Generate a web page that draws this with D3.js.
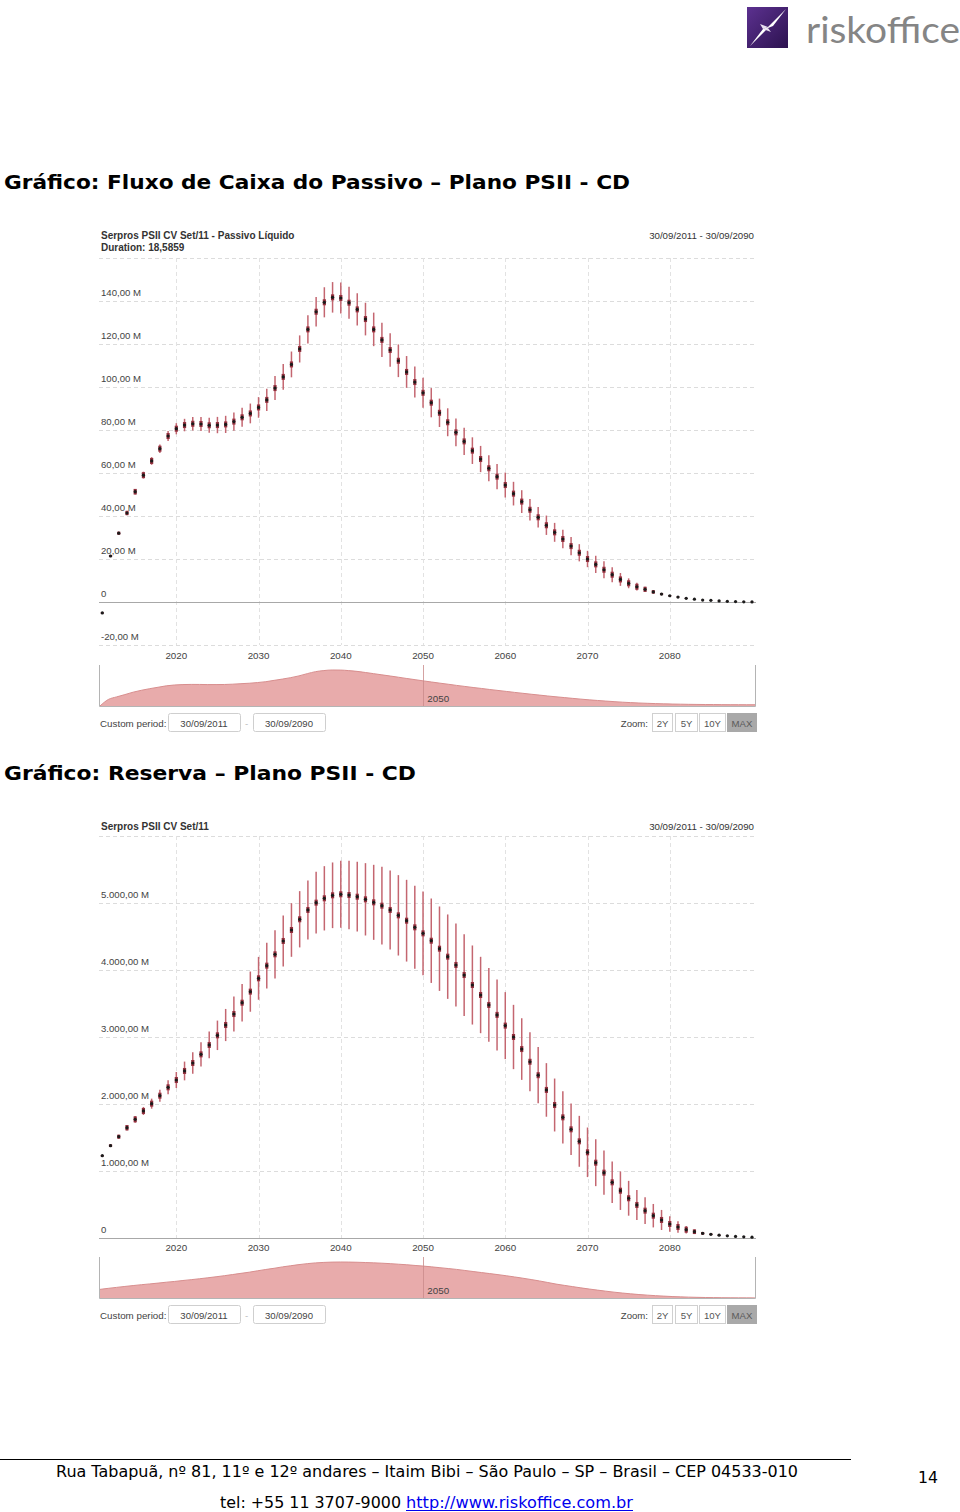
<!DOCTYPE html>
<html><head><meta charset="utf-8">
<script src="https://cdn.jsdelivr.net/npm/d3@7"></script>
<style>body{margin:0;background:#fff} svg{display:block}</style>
</head><body><svg id="c" width="960" height="1512"></svg>
<script>
// ---------- DATA ----------
const years = d3.range(2011, 2091);
const passivo = [
 -5.1,21.4,32,41.4,51.3,59,65.6,71.3,77.2,80.6,
 82.3,82.9,82.8,82.2,82.3,82.6,83.9,85.9,87.7,90.5,
 94,99.5,104.7,110.5,117.7,126.8,135,139.4,141.7,141.4,
 139.2,136.1,131.6,126.8,121.9,117.2,112.2,107,102.3,97.3,
 92.7,88,83.6,78.9,74.7,70.4,66.5,62.2,58.3,54.4,
 50.4,46.7,42.9,39.4,35.7,32.4,29.3,26,22.9,20,
 17.5,15,12.7,10.5,8.7,7.1,5.9,4.7,3.7,2.9,
 2.3,1.7,1.3,0.9,0.8,0.5,0.3,0.2,0.1,0.05];
const passivoSpread = [
 0.3,0.5,0.7,1.0,1.3,1.6,1.8,2.0,2.3,2.6,
 2.9,3.1,3.3,3.5,3.8,4.0,4.2,4.4,4.6,4.8,
 5.2,5.6,6.0,6.0,6.3,6.6,6.9,7.0,7.1,7.2,
 7.4,7.5,7.6,7.8,8.0,7.8,7.6,7.4,7.2,7.0,
 6.8,6.6,6.5,6.4,6.3,6.2,6.1,6.0,5.9,5.8,
 5.5,5.3,5.0,4.8,4.5,4.4,4.3,4.2,4.0,3.8,
 4.0,3.9,3.5,3.0,2.3,1.8,1.2,0.8,0.5,0.3,
 0.2,0.2,0.1,0.1,0.1,0.1,0.1,0.1,0.1,0.1];
const reserva = [
 1228,1378,1512,1646,1771,1896,2005,2124,2249,2358,
 2493,2612,2741,2881,3025,3179,3343,3512,3677,3876,
 4065,4234,4433,4597,4757,4896,5005,5070,5115,5130,
 5119,5094,5055,5010,4960,4896,4816,4736,4637,4547,
 4437,4318,4199,4075,3925,3776,3627,3478,3330,3170,
 3000,2820,2630,2430,2210,1985,1801,1622,1443,1279,
 1124,975,831,706,593,493,408,333,269,209,
 164,124,94,70,55,42,32,24,18,12];
const reservaSpread = [
 10,20,30,40,50,60,75,90,105,120,
 140,160,180,200,220,240,260,280,300,320,
 340,360,380,400,420,440,460,480,490,500,
 510,520,540,560,580,590,600,610,620,625,
 630,630,630,620,610,590,570,550,530,500,
 480,460,440,420,400,395,390,385,380,370,
 350,330,310,287,260,225,200,175,150,115,
 85,55,35,20,12,8,5,3,2,1];
const xTicks = [2020,2030,2040,2050,2060,2070,2080];
const yTicks1 = [-20,0,20,40,60,80,100,120,140];
const yLabels1 = ["-20,00 M","0","20,00 M","40,00 M","60,00 M","80,00 M","100,00 M","120,00 M","140,00 M"];
const yGrid1 = [-20,20,40,60,80,100,120,140,160];
const yTicks2 = [0,1000,2000,3000,4000,5000];
const yLabels2 = ["0","1.000,00 M","2.000,00 M","3.000,00 M","4.000,00 M","5.000,00 M"];
const yGrid2 = [1000,2000,3000,4000,5000,6000];
const zoomButtons = ["2Y","5Y","10Y","MAX"];

// ---------- DRAW ----------
const svg = d3.select("#c");
const F = "'Liberation Sans', Arial, sans-serif";

// Logo
const defs = svg.append("defs");
const lg = defs.append("linearGradient").attr("id","lg").attr("x1","0").attr("y1","0").attr("x2","1").attr("y2","1");
lg.append("stop").attr("offset","0").attr("stop-color","#5c3190");
lg.append("stop").attr("offset","1").attr("stop-color","#2c124f");
svg.append("rect").attr("x",747).attr("y",7).attr("width",41).attr("height",41).attr("fill","url(#lg)");
svg.append("path").attr("d","M750,46 L763,29 L768,27 L786,9 L773,26 L768,28 Z").attr("fill","#fff");
svg.append("path").attr("d","M763,29 L760,24 L768,27 Z M768,28 L771,32 L763,29 Z").attr("fill","#e8e0f0");
svg.append("text").attr("x",806).attr("y",43).attr("font-family","Lato, 'DejaVu Sans', sans-serif")
  .attr("font-size",37).attr("fill","#858585").attr("textLength",154).attr("lengthAdjust","spacingAndGlyphs").text("riskoffice");

// Page titles
svg.append("text").attr("x",4).attr("y",189).attr("font-family","'DejaVu Sans', Verdana, sans-serif")
  .attr("font-weight","bold").attr("font-size",19).attr("textLength",626).attr("lengthAdjust","spacingAndGlyphs")
  .text("Gráfico: Fluxo de Caixa do Passivo – Plano PSII - CD");
svg.append("text").attr("x",4).attr("y",780).attr("font-family","'DejaVu Sans', Verdana, sans-serif")
  .attr("font-weight","bold").attr("font-size",19).attr("textLength",412).attr("lengthAdjust","spacingAndGlyphs")
  .text("Gráfico: Reserva – Plano PSII - CD");

function drawChart(cfg){
  const g = svg.append("g");
  const x = d3.scaleLinear().domain([2011,2090]).range([102.3,752]);
  const y = d3.scaleLinear().domain(cfg.yDomain).range([cfg.yBottom, cfg.yTop]);
  const L = 99, R = 756;
  // header
  g.append("text").attr("x",101).attr("y",cfg.headY).attr("font-family",F).attr("font-weight","bold")
    .attr("font-size",10).attr("fill","#333").text(cfg.title);
  if (cfg.subtitle) g.append("text").attr("x",101).attr("y",cfg.headY+12).attr("font-family",F).attr("font-weight","bold")
    .attr("font-size",10).attr("fill","#333").text(cfg.subtitle);
  g.append("text").attr("x",754).attr("y",cfg.headY).attr("text-anchor","end").attr("font-family",F)
    .attr("font-size",9.7).attr("fill","#333").text("30/09/2011 - 30/09/2090");
  // grid
  g.selectAll("line.hg").data(cfg.grid).join("line")
    .attr("x1",L).attr("x2",R).attr("y1",d=>Math.round(y(d))+0.5).attr("y2",d=>Math.round(y(d))+0.5)
    .attr("stroke","#dcdcdc").attr("stroke-dasharray","4,3");
  g.selectAll("line.vg").data(xTicks).join("line")
    .attr("x1",d=>Math.round(x(d))+0.5).attr("x2",d=>Math.round(x(d))+0.5)
    .attr("y1",cfg.yTop).attr("y2",cfg.yBottom)
    .attr("stroke","#e2e2e2").attr("stroke-dasharray","4,3");
  // zero line
  g.append("line").attr("x1",L).attr("x2",R).attr("y1",Math.round(y(0))+0.5).attr("y2",Math.round(y(0))+0.5)
    .attr("stroke","#a8a8a8").attr("stroke-width",1.2);
  // y labels
  g.selectAll("text.yl").data(cfg.yTicks).join("text")
    .attr("x",101).attr("y",d=>y(d)-5).attr("font-family",F).attr("font-size",9.6)
    .attr("fill","#444").text((d,i)=>cfg.yLabels[i]);
  // x labels
  g.selectAll("text.xl").data(xTicks).join("text")
    .attr("x",d=>x(d)).attr("y",cfg.xLabY).attr("text-anchor","middle").attr("font-family",F)
    .attr("font-size",9.8).attr("fill","#444").text(d=>d);
  // marks
  const data = years.map((yr,i)=>({yr, v:cfg.values[i], s:cfg.spread[i]}));
  const mk = g.append("g");
  mk.selectAll("line.w").data(data).join("line")
    .attr("x1",d=>x(d.yr)).attr("x2",d=>x(d.yr))
    .attr("y1",d=>y(d.v+d.s)).attr("y2",d=>y(d.v-d.s))
    .attr("stroke","#c46670").attr("stroke-width",1.5);
  mk.selectAll("rect.b").data(data).join("rect")
    .attr("x",d=>x(d.yr)-1.6).attr("width",3.2)
    .attr("y",d=>y(d.v)-Math.min(3, Math.abs(y(d.v)-y(d.v+d.s))))
    .attr("height",d=>2*Math.min(3, Math.abs(y(d.v)-y(d.v+d.s))))
    .attr("fill","#93303e");
  mk.selectAll("circle").data(data).join("circle")
    .attr("cx",d=>x(d.yr)).attr("cy",d=>y(d.v)).attr("r",1.6).attr("fill","#1b1b1b");
  // navigator
  const nx = d3.scaleLinear().domain([2011,2090]).range([100,755]);
  const ny = d3.scaleLinear().domain([d3.min(cfg.values.concat([0])), d3.max(cfg.values)]).range([cfg.navBottom, cfg.navTop+5]);
  const area = d3.area().x((d,i)=>nx(years[i])).y0(cfg.navBottom).y1(d=>ny(d)).curve(d3.curveMonotoneX);
  const line = d3.line().x((d,i)=>nx(years[i])).y(d=>ny(d)).curve(d3.curveMonotoneX);
  g.append("path").attr("d",area(cfg.values)).attr("fill","#e8abab");
  g.append("path").attr("d",line(cfg.values)).attr("fill","none").attr("stroke","#d88e8e").attr("stroke-width",1);
  g.append("line").attr("x1",Math.round(nx(2050))+0.5).attr("x2",Math.round(nx(2050))+0.5)
    .attr("y1",cfg.navTop).attr("y2",cfg.navBottom).attr("stroke","#c98a8a").attr("stroke-width",0.8);
  g.append("text").attr("x",nx(2050)+4).attr("y",cfg.navBottom-4).attr("font-family",F).attr("font-size",9.8)
    .attr("fill","#444").text("2050");
  g.append("path").attr("d",`M${L+0.5},${cfg.navTop} V${cfg.navBottom+0.5} H${R-0.5} V${cfg.navTop}`)
    .attr("fill","none").attr("stroke","#b4b4b4").attr("stroke-width",1);
  // controls
  const cy = cfg.ctrlY;
  g.append("text").attr("x",100).attr("y",cy+3.5).attr("font-family",F).attr("font-size",9.8).attr("fill","#444").text("Custom period:");
  [["30/09/2011",168],["30/09/2090",253]].forEach(([t,bx])=>{
    g.append("rect").attr("x",bx+0.5).attr("y",cy-9.5).attr("width",72).attr("height",18).attr("rx",2)
      .attr("fill","#fff").attr("stroke","#cfcfcf");
    g.append("text").attr("x",bx+36).attr("y",cy+3.5).attr("text-anchor","middle").attr("font-family",F)
      .attr("font-size",9.6).attr("fill","#444").text(t);
  });
  g.append("text").attr("x",246.5).attr("y",cy+3.5).attr("text-anchor","middle").attr("font-family",F)
    .attr("font-size",9.6).attr("fill","#bbb").text("-");
  g.append("text").attr("x",648).attr("y",cy+3.5).attr("text-anchor","end").attr("font-family",F)
    .attr("font-size",9.6).attr("fill","#444").text("Zoom:");
  const bx = [652,675,699,727], bw = [20,22,26,29];
  zoomButtons.forEach((t,i)=>{
    const last = i===zoomButtons.length-1;
    g.append("rect").attr("x",bx[i]+0.5).attr("y",cy-9.5).attr("width",bw[i]).attr("height",18)
      .attr("fill",last?"#a9a9a9":"#fff").attr("stroke",last?"#a9a9a9":"#d0d0d0");
    g.append("text").attr("x",bx[i]+bw[i]/2+0.5).attr("y",cy+3.5).attr("text-anchor","middle").attr("font-family",F)
      .attr("font-size",9.6).attr("fill",last?"#5a5a5a":"#555").text(t);
  });
}

drawChart({title:"Serpros PSII CV Set/11 - Passivo Líquido", subtitle:"Duration: 18,5859", headY:239,
  values:passivo, spread:passivoSpread, yDomain:[-20,160], yTop:258, yBottom:645,
  yTicks:yTicks1, yLabels:yLabels1, grid:yGrid1, xLabY:659, navTop:665, navBottom:706, ctrlY:723});
drawChart({title:"Serpros PSII CV Set/11", subtitle:null, headY:830,
  values:reserva, spread:reservaSpread, yDomain:[0,6000], yTop:836, yBottom:1238,
  yTicks:yTicks2, yLabels:yLabels2, grid:yGrid2, xLabY:1251, navTop:1257, navBottom:1298, ctrlY:1315});

// Footer
svg.append("line").attr("x1",0).attr("x2",851).attr("y1",1459.5).attr("y2",1459.5).attr("stroke","#000").attr("stroke-width",1);
svg.append("text").attr("x",56).attr("y",1477).attr("font-family","'DejaVu Sans', Tahoma, sans-serif").attr("font-size",15)
  .attr("textLength",742).attr("lengthAdjust","spacingAndGlyphs")
  .text("Rua Tabapuã, nº 81, 11º e 12º andares – Itaim Bibi – São Paulo – SP – Brasil – CEP 04533-010");
svg.append("text").attr("x",918).attr("y",1483).attr("font-family","'DejaVu Sans', Tahoma, sans-serif").attr("font-size",15)
  .attr("textLength",20).attr("lengthAdjust","spacingAndGlyphs").text("14");
svg.append("text").attr("x",220).attr("y",1508).attr("font-family","'DejaVu Sans', Tahoma, sans-serif").attr("font-size",15)
  .attr("textLength",181).attr("lengthAdjust","spacingAndGlyphs").text("tel: +55 11 3707-9000");
svg.append("text").attr("x",406).attr("y",1508).attr("font-family","'DejaVu Sans', Tahoma, sans-serif").attr("font-size",15)
  .attr("fill","#0000ee").attr("textLength",227).attr("lengthAdjust","spacingAndGlyphs").text("http://www.riskoffice.com.br");
svg.append("line").attr("x1",406).attr("x2",633).attr("y1",1510.5).attr("y2",1510.5).attr("stroke","#0000ee");
</script></body></html>
